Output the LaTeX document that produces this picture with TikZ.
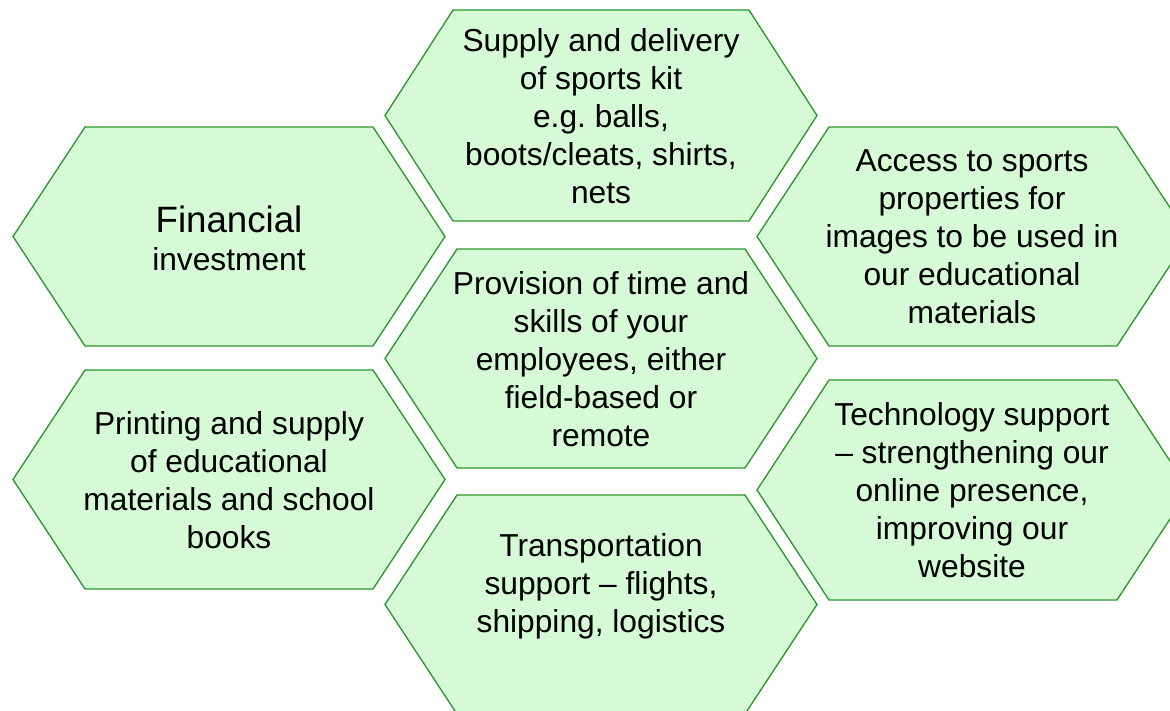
\documentclass[tikz,border=0pt]{standalone}
\usepackage{fontspec}
\setmainfont{Liberation Sans}
\definecolor{hexfill}{RGB}{213,250,213}
\definecolor{hexline}{RGB}{45,150,45}
\newcommand{\hexa}[4][72]{%
  \draw[hexcell] (#2,{(#3+#4)/2}) -- (#2+#1,#3) -- (#2+432-#1,#3) -- (#2+432,{(#3+#4)/2}) -- (#2+432-#1,#4) -- (#2+#1,#4) -- cycle;}
\frenchspacing
\begin{document}
\begin{tikzpicture}[x=0.75pt,y=-0.75pt,
  hexcell/.style={fill=hexfill,draw=hexline,line width=1pt,line join=miter},
  label/.style={align=center,inner sep=0pt,font=\fontsize{23.8}{28.5}\selectfont}]
\useasboundingbox (0,0) rectangle (1170,710);
\clip (0,0) rectangle (1170,710);
\hexa[68]{385}{10}{221}
\hexa{13}{127}{346}
\hexa{757}{127}{346}
\hexa{13}{370}{589}
\hexa{385}{249}{468}
\hexa{385}{495}{714}
\hexa{757}{380}{600}
\node[label] (supply) at (601,116) {Supply and delivery\\of sports kit\\e.g.\ balls,\\boots/cleats, shirts,\\nets};
\node[label] (fin) at (229,238) {{\fontsize{27.5}{28.5}\selectfont Financial}\\investment};
\node[label] (access) at (972,237) {Access to sports\\properties for\\images to be used in\\our educational\\materials};
\node[label] (print) at (229,480) {Printing and supply\\of educational\\materials and school\\books};
\node[label] (prov) at (601,359) {Provision of time and\\skills of your\\employees, either\\field-based or\\remote};
\node[label] (trans) at (601,586) {Transportation\\support – flights,\\shipping, logistics};
\node[label] (tech) at (972,490) {Technology support\\– strengthening our\\online presence,\\improving our\\website};
\end{tikzpicture}
\end{document}
